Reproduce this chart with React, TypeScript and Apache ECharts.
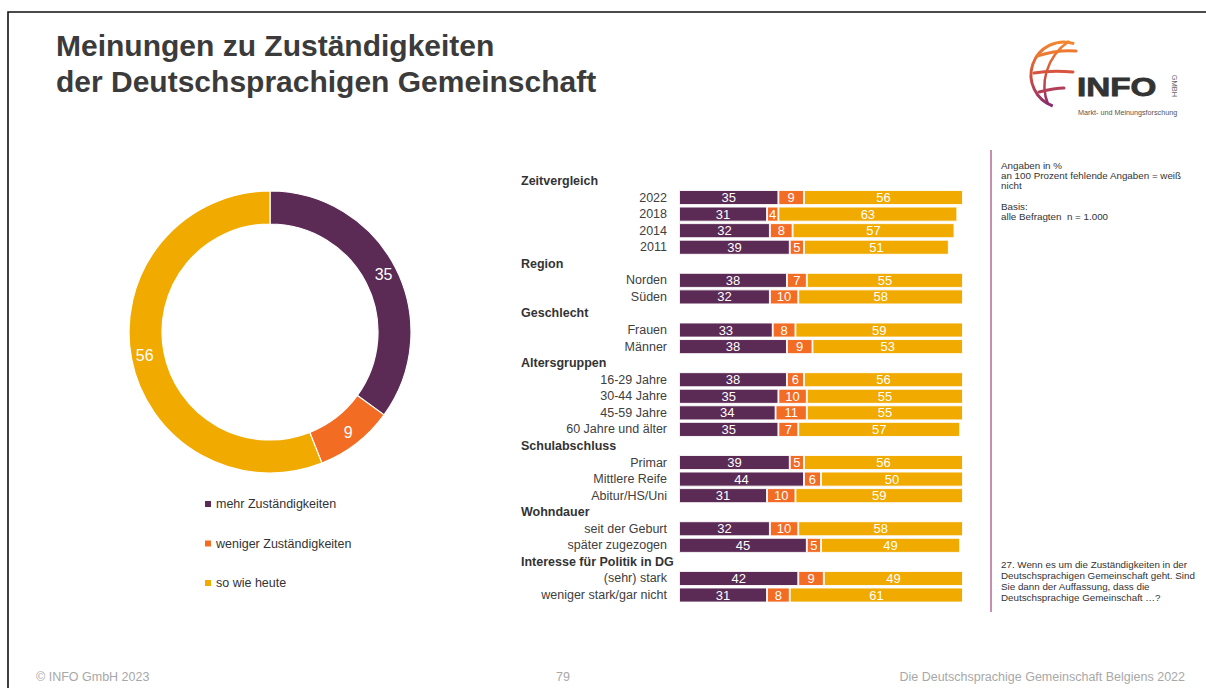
import React, { useEffect, useRef } from "react";
import * as echarts from "echarts";

const titleLines = ["Meinungen zu Zuständigkeiten", "der Deutschsprachigen Gemeinschaft"];

const answerLabels = ["mehr Zuständigkeiten", "weniger Zuständigkeiten", "so wie heute"];
const answerColors = ["#5B2A55", "#F36C24", "#F1AA00"];
const overallValues = [35, 9, 56];

const rowLabels = [
  "Zeitvergleich", "2022", "2018", "2014", "2011",
  "Region", "Norden", "Süden",
  "Geschlecht", "Frauen", "Männer",
  "Altersgruppen", "16-29 Jahre", "30-44 Jahre", "45-59 Jahre", "60 Jahre und älter",
  "Schulabschluss", "Primar", "Mittlere Reife", "Abitur/HS/Uni",
  "Wohndauer", "seit der Geburt", "später zugezogen",
  "Interesse für Politik in DG", "(sehr) stark", "weniger stark/gar nicht",
];
const headerRows = ["Zeitvergleich", "Region", "Geschlecht", "Altersgruppen", "Schulabschluss", "Wohndauer", "Interesse für Politik in DG"];

const mehrValues = [null, 35, 31, 32, 39, null, 38, 32, null, 33, 38, null, 38, 35, 34, 35, null, 39, 44, 31, null, 32, 45, null, 42, 31];
const wenigerValues = [null, 9, 4, 8, 5, null, 7, 10, null, 8, 9, null, 6, 10, 11, 7, null, 5, 6, 10, null, 10, 5, null, 9, 8];
const heuteValues = [null, 56, 63, 57, 51, null, 55, 58, null, 59, 53, null, 56, 55, 55, 57, null, 56, 50, 59, null, 58, 49, null, 49, 61];

const notesTop = ["Angaben in %", "an 100 Prozent fehlende Angaben = weiß", "nicht", "", "Basis:", "alle Befragten  n = 1.000"];
const notesBottom = [
  "27. Wenn es um die Zuständigkeiten in der",
  "Deutschsprachigen Gemeinschaft geht. Sind",
  "Sie dann der Auffassung, dass die",
  "Deutschsprachige Gemeinschaft …?",
];
const footerLeft = "© INFO GmbH 2023";
const footerCenter = "79";
const footerRight = "Die Deutschsprachige Gemeinschaft Belgiens 2022";

const FONT = "'Liberation Sans', Arial, Helvetica, sans-serif";

export default function App() {
  const ref = useRef<HTMLDivElement>(null);

  useEffect(() => {
    if (!ref.current) return;
    const chart = echarts.init(ref.current, undefined, { renderer: "svg" });
    const globeGrad = () =>
      new echarts.graphic.LinearGradient(0, 0, 0, 1, [
        { offset: 0, color: "#F3862E" },
        { offset: 0.5, color: "#D4543D" },
        { offset: 1, color: "#8A2B6C" },
      ]);
    const deg = (d: number) => (d * Math.PI) / 180;

    const barSeries = [mehrValues, wenigerValues, heuteValues].map((vals, i) => ({
      type: "bar",
      name: answerLabels[i],
      stack: "total",
      barWidth: 15,
      data: vals,
      itemStyle: { color: answerColors[i], borderColor: "#fff", borderWidth: 0.9 },
      label: {
        show: true,
        position: "inside",
        color: "#fff",
        fontSize: 13,
        fontFamily: FONT,
        formatter: (p: any) => (p.value == null ? "" : String(p.value)),
      },
    }));

    chart.setOption({
      animation: false,
      textStyle: { fontFamily: FONT },
      legend: {
        data: answerLabels,
        orient: "vertical",
        left: 200,
        top: 492,
        itemWidth: 6,
        itemHeight: 6,
        itemGap: 25.5,
        icon: "rect",
        itemStyle: { borderWidth: 0 },
        textStyle: { fontSize: 12.5, color: "#333", lineHeight: 14, fontFamily: FONT },
        selectedMode: false,
      },
      grid: { left: 679, top: 172.7, width: 284, height: 430.6 },
      xAxis: { type: "value", min: 0, max: 100, show: false },
      yAxis: {
        type: "category",
        inverse: true,
        data: rowLabels,
        axisLine: { show: false },
        axisTick: { show: false },
        splitLine: { show: false },
        axisLabel: {
          margin: 12,
          formatter: (v: string) => (headerRows.includes(v) ? `{h|${v}}` : `{n|${v}}`),
          rich: {
            h: { fontWeight: "bold", fontSize: 12.5, color: "#333", align: "left", width: 146, fontFamily: FONT },
            n: { fontSize: 12.5, color: "#404040", align: "right", width: 146, fontFamily: FONT },
          },
        },
      },
      series: [
        {
          type: "pie",
          name: "Gesamt",
          center: [270, 332],
          radius: [108, 141],
          startAngle: 90,
          clockwise: true,
          data: overallValues.map((v, i) => ({ name: answerLabels[i], value: v, itemStyle: { color: answerColors[i] } })),
          itemStyle: { borderColor: "#fff", borderWidth: 1.2 },
          label: { show: true, position: "inside", color: "#fff", fontSize: 16, formatter: "{c}", fontFamily: FONT },
          labelLine: { show: false },
          emphasis: { disabled: true },
        },
        ...barSeries,
      ],
      graphic: [
        // frame
        { type: "rect", silent: true, shape: { x: 8, y: 12, width: 1210, height: 700 }, style: { fill: "none", stroke: "#111", lineWidth: 1.6 } },
        // title
        {
          type: "text",
          left: 56,
          top: 27,
          style: {
            text: titleLines.join("\n"),
            fontSize: 30,
            fontWeight: "bold",
            lineHeight: 36,
            fill: "#3b3b3b",
            fontFamily: FONT,
          },
        },
        // logo globe
        {
          type: "arc",
          shape: { cx: 1064, cy: 75, r: 33, startAngle: deg(110), endAngle: deg(288), clockwise: true },
          style: { stroke: globeGrad(), lineWidth: 3, fill: "none" },
        },
        {
          type: "bezierCurve",
          shape: { x1: 1069, y1: 41, x2: 1048, y2: 104, cpx1: 1045, cpy1: 58, cpx2: 1040, cpy2: 85 },
          style: { stroke: globeGrad(), lineWidth: 2.5, fill: "none" },
        },
        {
          type: "bezierCurve",
          shape: { x1: 1037, y1: 56, x2: 1076, y2: 51, cpx1: 1050, cpy1: 52, cpx2: 1065, cpy2: 50 },
          style: { stroke: "#EE7A31", lineWidth: 3, fill: "none", lineCap: "round" },
        },
        {
          type: "bezierCurve",
          shape: { x1: 1034, y1: 73, x2: 1073, y2: 72, cpx1: 1046, cpy1: 71, cpx2: 1060, cpy2: 71 },
          style: { stroke: "#D7543E", lineWidth: 3, fill: "none", lineCap: "round" },
        },
        {
          type: "bezierCurve",
          shape: { x1: 1039, y1: 92, x2: 1064, y2: 88, cpx1: 1047, cpy1: 90, cpx2: 1056, cpy2: 88 },
          style: { stroke: "#B23E58", lineWidth: 3, fill: "none", lineCap: "round" },
        },
        {
          type: "text",
          x: 1077,
          y: 87,
          scaleX: 1.28,
          style: { text: "INFO", fontSize: 26, fontWeight: 900, fill: "#333", stroke: "#333", lineWidth: 0.8, verticalAlign: "middle", align: "left", fontFamily: FONT },
        },
        {
          type: "text",
          x: 1174,
          y: 86,
          rotation: -Math.PI / 2,
          style: { text: "GMBH", fontSize: 7.5, fill: "#666", verticalAlign: "middle", align: "center", fontFamily: FONT },
        },
        {
          type: "text",
          x: 1078,
          y: 112,
          scaleX: 0.9,
          style: { text: "Markt- und Meinungsforschung", fontSize: 8, fill: "#555", verticalAlign: "middle", align: "left", fontFamily: FONT },
        },
        // side notes
        { type: "line", shape: { x1: 991, y1: 150, x2: 991, y2: 612 }, style: { stroke: "#C790B3", lineWidth: 2 } },
        {
          type: "text",
          x: 1001,
          y: 160,
          style: { text: notesTop.join("\n"), fontSize: 9.8, lineHeight: 10.3, fill: "#333", fontFamily: FONT },
        },
        {
          type: "text",
          x: 1001,
          y: 559,
          style: { text: notesBottom.join("\n"), fontSize: 9.8, lineHeight: 11, fill: "#333", fontFamily: FONT },
        },
        // footer
        { type: "text", x: 36, y: 677, style: { text: footerLeft, fontSize: 12.5, fill: "#a8a8a8", verticalAlign: "middle", fontFamily: FONT } },
        { type: "text", x: 563, y: 677, style: { text: footerCenter, fontSize: 12.5, fill: "#a8a8a8", verticalAlign: "middle", align: "center", fontFamily: FONT } },
        { type: "text", x: 1185, y: 677, style: { text: footerRight, fontSize: 12.5, fill: "#a8a8a8", verticalAlign: "middle", align: "right", fontFamily: FONT } },
      ],
    });
    return () => chart.dispose();
  }, []);

  return (
    <div
      ref={ref}
      style={{ position: "absolute", left: 0, top: 0, width: 1206, height: 688, background: "#fff" }}
    />
  );
}
